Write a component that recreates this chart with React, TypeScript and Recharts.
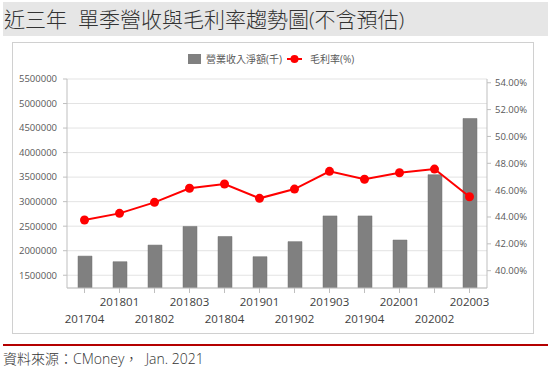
import { ComposedChart, Bar, Line, XAxis, YAxis, CartesianGrid } from 'recharts'

const quarters = ['201704', '201801', '201802', '201803', '201804', '201901', '201902', '201903', '201904', '202001', '202002', '202003']
// 營業收入淨額(千)
const revenue = [1890000, 1776000, 2115000, 2495000, 2290000, 1878000, 2185000, 2710000, 2710000, 2218000, 3550000, 4695000]
// 毛利率(%)
const grossMargin = [43.78, 44.27, 45.09, 46.14, 46.46, 45.39, 46.08, 47.4, 46.81, 47.3, 47.57, 45.51]

const revenueTicks = [1500000, 2000000, 2500000, 3000000, 3500000, 4000000, 4500000, 5000000, 5500000]
const marginTicks = [40, 42, 44, 46, 48, 50, 52, 54]

const FONT = '"Open Sans", "Noto Sans CJK TC", sans-serif'

const data = quarters.map((q, i) => ({ q, revenue: revenue[i], gm: grossMargin[i] }))

// labels alternate between two rows
const QuarterTick = (props: any) => {
  const { x, y, payload } = props
  const i = quarters.indexOf(payload.value)
  const upper = i % 2 === 1
  return (
    <text x={x} y={y + (upper ? 11 : 28)} textAnchor="middle" fontSize={11.5} fill="#404040" fontFamily={FONT}>
      {payload.value}
    </text>
  )
}

export default function App() {
  return (
    <div style={{ position: 'absolute', left: 0, top: 0, width: 553, height: 385, background: '#fff', fontFamily: FONT }}>
      <div
        style={{
          position: 'absolute', left: 3, top: 2, width: 545, height: 34, background: '#e6e6e6',
          fontSize: 21, fontWeight: 300, color: '#333', lineHeight: '34px', paddingLeft: 1,
          boxSizing: 'border-box', whiteSpace: 'pre',
        }}
      >
        {'近三年  單季營收與毛利率趨勢圖(不含預估)'}
      </div>

      <div style={{ position: 'absolute', left: 12, top: 42, width: 520, height: 290, border: '1px solid #d0d0d0' }}>
        {/* legend */}
        <div style={{ position: 'absolute', left: 175, top: 11, width: 13, height: 10, background: '#808080' }} />
        <div style={{ position: 'absolute', left: 193, top: 8, fontSize: 10, lineHeight: '16px', color: '#595959', whiteSpace: 'pre' }}>
          營業收入淨額(千)
        </div>
        <svg width={15} height={10} style={{ position: 'absolute', left: 274, top: 11 }}>
          <line x1={0} y1={5} x2={15} y2={5} stroke="#ff0000" strokeWidth={2} />
          <circle cx={7.5} cy={5} r={4} fill="#ff0000" />
        </svg>
        <div style={{ position: 'absolute', left: 297, top: 8, fontSize: 10, lineHeight: '16px', color: '#595959', whiteSpace: 'pre' }}>
          毛利率(%)
        </div>

        <ComposedChart width={520} height={290} data={data} margin={{ top: 36, right: 0, bottom: 0, left: 0 }}>
          <CartesianGrid yAxisId="rev" vertical={false} stroke="#e3e3e3" />
          <XAxis
            dataKey="q"
            interval={0}
            tick={<QuarterTick />}
            tickSize={5}
            height={45}
            axisLine={{ stroke: '#bfbfbf' }}
            tickLine={{ stroke: '#bfbfbf' }}
          />
          <YAxis
            yAxisId="rev"
            domain={[1240000, 5500000]}
            ticks={revenueTicks}
            interval={0}
            allowDataOverflow
            width={54}
            tickSize={4}
            tickMargin={6}
            axisLine={{ stroke: '#bfbfbf' }}
            tickLine={{ stroke: '#bfbfbf' }}
            tick={{ fontSize: 9.5, fill: '#595959', fontFamily: FONT }}
          />
          <YAxis
            yAxisId="gm"
            orientation="right"
            domain={[38.71, 54.28]}
            ticks={marginTicks}
            interval={0}
            allowDataOverflow
            width={46}
            tickSize={4}
            tickMargin={4}
            tickFormatter={(v: number) => v.toFixed(2) + '%'}
            axisLine={{ stroke: '#bfbfbf' }}
            tickLine={{ stroke: '#bfbfbf' }}
            tick={{ fontSize: 9.5, fill: '#595959', fontFamily: FONT }}
          />
          <Bar yAxisId="rev" dataKey="revenue" barSize={14} fill="#808080" stroke="#707070" strokeWidth={0.5} isAnimationActive={false} />
          <Line
            yAxisId="gm"
            dataKey="gm"
            type="linear"
            stroke="#ff0000"
            strokeWidth={2}
            dot={{ r: 4.5, fill: '#ff0000', stroke: '#ff0000', strokeWidth: 0 }}
            activeDot={false}
            isAnimationActive={false}
          />
        </ComposedChart>
      </div>

      <div style={{ position: 'absolute', left: 3, top: 344, width: 545, height: 2, background: '#b40000' }} />
      <div style={{ position: 'absolute', left: 3, top: 348, fontSize: 14, fontWeight: 300, color: '#333', whiteSpace: 'pre' }}>
        {'資料來源：CMoney，  Jan. 2021'}
      </div>
    </div>
  )
}
